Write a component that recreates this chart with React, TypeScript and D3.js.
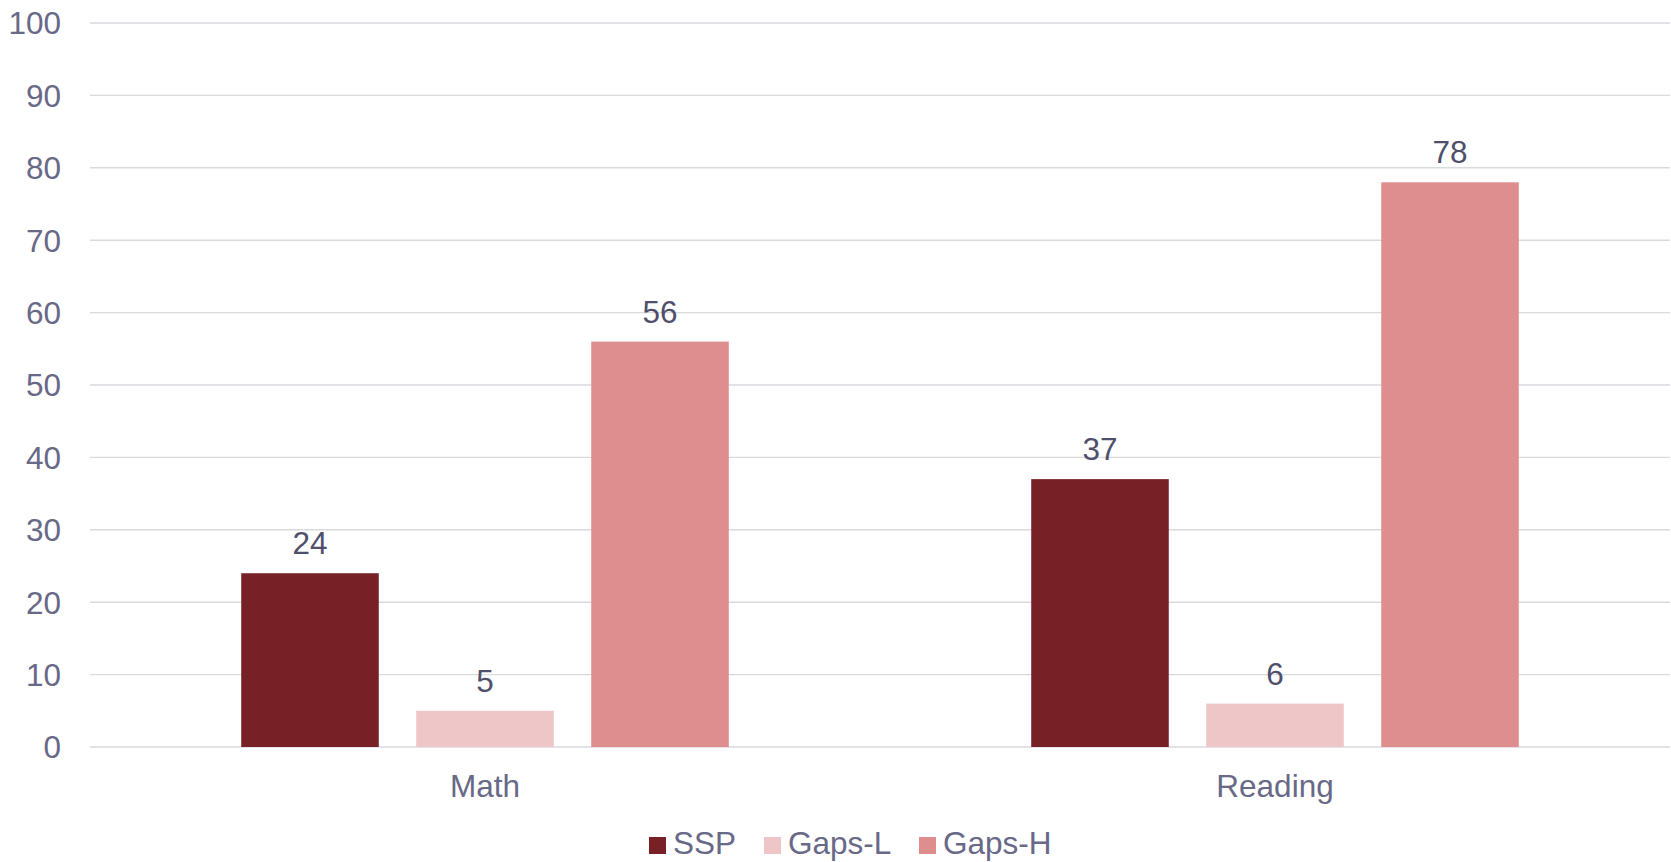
import React from "react";
import * as d3 from "d3";

const categories = ["Math", "Reading"];
const seriesNames = ["SSP", "Gaps-L", "Gaps-H"];
const sspValues = [24, 37];
const gapsLValues = [5, 6];
const gapsHValues = [56, 78];
const yTicks = [0, 10, 20, 30, 40, 50, 60, 70, 80, 90, 100];
const seriesColors = ["#772126", "#EFC6C7", "#DF8E8F"];

const W = 1671;
const H = 862;
const FONT = "'Liberation Sans', Arial, sans-serif";
const FS = 31.5;

export default function App() {
  const seriesValues = [sspValues, gapsLValues, gapsHValues];
  const y = d3.scaleLinear().domain([0, 100]).range([747, 23]);
  const x0 = d3.scaleBand<string>().domain(categories).range([90, 1670]).paddingInner(0).paddingOuter(0);
  const x1 = d3
    .scaleBand<string>()
    .domain(seriesNames)
    .range([0, x0.bandwidth()])
    .paddingInner(0.214)
    .paddingOuter(0.864);

  const legendItems = [
    { name: "SSP", sx: 649, tx: 673 },
    { name: "Gaps-L", sx: 764, tx: 788 },
    { name: "Gaps-H", sx: 919, tx: 943 },
  ];

  return (
    <svg width={W} height={H} style={{ position: "absolute", left: 0, top: 0, background: "#fff" }} fontFamily={FONT}>
      {yTicks.map((t) => (
        <g key={t}>
          <line x1={90} x2={1670} y1={y(t)} y2={y(t)} stroke="#d9d9e0" strokeWidth={1.4} />
          <text x={61} y={y(t)} dy="0.36em" textAnchor="end" fontSize={FS} fill="#686887">
            {t}
          </text>
        </g>
      ))}
      {categories.map((c, ci) => (
        <g key={c} transform={`translate(${x0(c)},0)`}>
          {seriesNames.map((s, si) => {
            const v = seriesValues[si][ci];
            const bx = x1(s)!;
            return (
              <g key={s}>
                <rect x={bx} y={y(v)} width={x1.bandwidth()} height={y(0) - y(v)} fill={seriesColors[si]} />
                <text x={bx + x1.bandwidth() / 2} y={y(v) - 19} textAnchor="middle" fontSize={FS} fill="#4f4f6b">
                  {v}
                </text>
              </g>
            );
          })}
          <text x={x0.bandwidth() / 2} y={797} textAnchor="middle" fontSize={FS} fill="#686887">
            {c}
          </text>
        </g>
      ))}
      {legendItems.map((l, i) => (
        <g key={l.name}>
          <rect x={l.sx} y={837} width={17} height={17} fill={seriesColors[i]} />
          <text x={l.tx} y={854} fontSize={FS} fill="#686887">
            {l.name}
          </text>
        </g>
      ))}
    </svg>
  );
}
